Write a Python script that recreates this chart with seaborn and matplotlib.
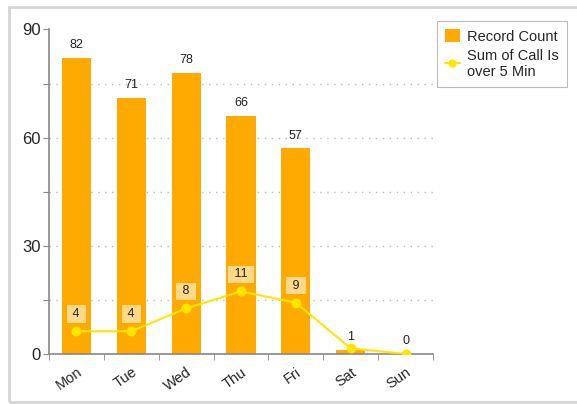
import matplotlib
matplotlib.use("Agg")
import matplotlib.pyplot as plt
import seaborn as sns
import pandas as pd
from matplotlib.patches import Rectangle
from matplotlib.lines import Line2D
from matplotlib.patches import Patch

days = ["Mon", "Tue", "Wed", "Thu", "Fri", "Sat", "Sun"]
record_count = [82, 71, 78, 66, 57, 1, 0]
calls_over_5 = [4, 4, 8, 11, 9, 1, 0]
y_ticks = [0, 30, 60, 90]

sns.set_style("white")
plt.rcParams["font.family"] = ["Liberation Sans", "DejaVu Sans"]

df = pd.DataFrame({"day": days, "count": record_count, "calls": calls_over_5})

fig = plt.figure(figsize=(5.77, 4.04), dpi=100)
ax = fig.add_axes([0.0849, 0.1238, 0.7504 - 0.0849, 0.927 - 0.1238])

BAR = "#FFAA00"
LINE = "#FFE600"
GRID = "#BBBBBB"
AXC = "#888888"

sns.barplot(data=df, x="day", y="count", color=BAR, width=0.53, ax=ax,
            saturation=1, edgecolor="none", zorder=2)
ax.set_xlim(-0.5, 6.5)
ax.set_ylim(0, 90)
ax.set_yticks(range(0, 91, 15))
ax.set_yticklabels([str(v) if v in y_ticks else "" for v in range(0, 91, 15)], fontsize=12)
for v in range(15, 90, 15):
    ax.axhline(v, color=GRID, lw=1.0, ls=(0, (1, 4)), zorder=0)
ax.set_xlabel("")
ax.set_ylabel("")
ax.set_xticks(range(7))
ax.set_xticklabels(days, rotation=35, ha="right", rotation_mode="anchor", fontsize=10.5)
ax.tick_params(axis="x", length=0, pad=8)
ax.set_xticks([i - 0.5 for i in range(8)], minor=True)
ax.tick_params(axis="x", which="minor", length=4, color=AXC, direction="out", bottom=True)
ax.tick_params(axis="y", length=4, color=AXC, direction="out", left=True, pad=2)
for s in ["top", "right"]:
    ax.spines[s].set_visible(False)
for s in ["left", "bottom"]:
    ax.spines[s].set_color(AXC)
    ax.spines[s].set_linewidth(1.2)

for c in ax.containers:
    ax.bar_label(c, labels=[str(v) for v in record_count], padding=5, fontsize=9, color="#222222")

ax2 = ax.twinx()
sns.pointplot(data=df, x="day", y="calls", color=LINE, ax=ax2, markers="o",
              markersize=6, linewidth=1.5, zorder=4)
ax2.set_ylim(0, 57)
ax2.set_xlim(-0.5, 6.5)
ax2.axis("off")
for i, v in enumerate(calls_over_5):
    if v >= 2:
        ax2.annotate(f" {v} ", (i, v), xytext=(0, 8), textcoords="offset points",
                     ha="center", va="bottom", fontsize=9, color="#222222",
                     bbox=dict(boxstyle="square,pad=0.22", fc="#FFD98A", ec="none"), zorder=5)

handles = [Patch(facecolor=BAR, edgecolor="none"),
           Line2D([0], [0], color=LINE, lw=1.5, marker="o", markersize=5)]
leg = fig.legend(handles, ["Record Count", "Sum of Call Is\nover 5 Min"],
                 loc="upper left", bbox_to_anchor=(437 / 577, 1 - 21 / 404),
                 fontsize=10.5, frameon=True, fancybox=False, handlelength=1.0,
                 handleheight=1.0, handletextpad=0.5, borderpad=0.55, labelspacing=0.35,
                 borderaxespad=0)
leg.get_frame().set_edgecolor("#AAAAAA")
leg.get_frame().set_linewidth(0.8)

fig.patches.append(Rectangle((9 / 577, 2 / 404), 1.0, 1 - 9 / 404, transform=fig.transFigure,
                             fill=False, ec="#D5D5D5", lw=2, zorder=0))

fig.savefig("out.png", dpi=100)
